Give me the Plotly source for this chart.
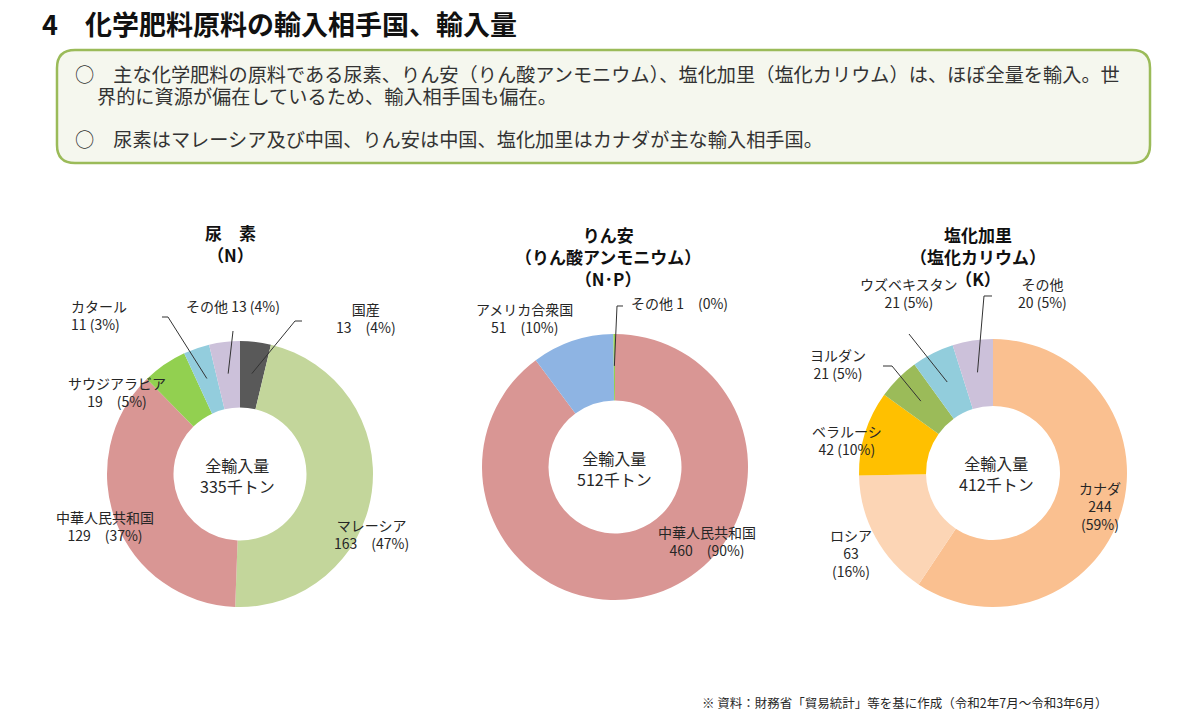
import math
import plotly.graph_objects as go

W, H = 1200, 723
OFF = 8  # page body margin in the browser
FONT = "Noto Sans CJK JP, Noto Sans, sans-serif"

# ---------------- data ----------------
urea_labels = ["国産", "マレーシア", "中華人民共和国", "サウジアラビア", "カタール", "その他"]
urea_values = [13, 163, 129, 19, 11, 13]
urea_texts = ["国産<br>13　(4%)", "マレーシア<br>163　(47%)", "中華人民共和国<br>129　(37%)",
              "サウジアラビア<br>19　(5%)", "カタール<br>11 (3%)", "その他 13 (4%)"]
urea_colors = ["#595959", "#c3d69b", "#d99694", "#92d050", "#93cddd", "#ccc1da"]
urea_total = "335千トン"

phos_labels = ["中華人民共和国", "アメリカ合衆国", "その他"]
phos_values = [460, 51, 1]
phos_texts = ["中華人民共和国<br>460　(90%)", "アメリカ合衆国<br>51　(10%)", "その他 1　(0%)"]
phos_colors = ["#d99694", "#8eb4e3", "#92d050"]
phos_total = "512千トン"

pot_labels = ["カナダ", "ロシア", "ベラルーシ", "ヨルダン", "ウズベキスタン", "その他"]
pot_values = [244, 63, 42, 21, 21, 20]
pot_texts = ["カナダ<br>244<br>(59%)", "ロシア<br>63<br>(16%)", "ベラルーシ<br>42 (10%)",
             "ヨルダン<br>21 (5%)", "ウズベキスタン<br>21 (5%)", "その他<br>20 (5%)"]
pot_colors = ["#fac090", "#fcd5b5", "#ffc000", "#9bbb59", "#92cddc", "#ccc1da"]
pot_total = "412千トン"

page_title = "4　化学肥料原料の輸入相手国、輸入量"
bullet_1a = "○　主な化学肥料の原料である尿素、りん安（りん酸アンモニウム）、塩化加里（塩化カリウム）は、ほぼ全量を輸入。世"
bullet_1b = "界的に資源が偏在しているため、輸入相手国も偏在。"
bullet_2 = "○　尿素はマレーシア及び中国、りん安は中国、塩化加里はカナダが主な輸入相手国。"
source_note = "※ 資料：財務省「貿易統計」等を基に作成（令和2年7月～令和3年6月）"

# ---------------- helpers ----------------
def X(px):
    return (px - OFF) / W


def Y(py):
    return 1 - (py - OFF) / H


fig = go.Figure()

pies = [
    dict(labels=urea_labels, values=urea_values, colors=urea_colors, cx=240, cy=474, r=133,
         title="尿　素<br>（N）", tx=230, ty=244, total=urea_total, ctx=237, cty=475),
    dict(labels=phos_labels, values=phos_values, colors=phos_colors, cx=615, cy=467, r=133,
         title="りん安<br>（りん酸アンモニウム）<br>（N･P）", tx=608, ty=256, total=phos_total, ctx=614, cty=469),
    dict(labels=pot_labels, values=pot_values, colors=pot_colors, cx=993, cy=473, r=134,
         title="塩化加里<br>（塩化カリウム）<br>（K）", tx=978, ty=256, total=pot_total, ctx=996, cty=473),
]

annotations = []
shapes = []

for p in pies:
    cx, cy, r = p["cx"], p["cy"], p["r"]
    fig.add_trace(go.Pie(
        labels=p["labels"], values=p["values"],
        marker=dict(colors=p["colors"], line=dict(width=0)),
        hole=0.5, sort=False, direction="clockwise", rotation=0,
        textinfo="none", hoverinfo="label+value", showlegend=False,
        domain=dict(x=[X(cx - r), X(cx + r)], y=[Y(cy + r), Y(cy - r)]),
    ))
    annotations.append(dict(x=X(p["tx"]), y=Y(p["ty"]), xref="paper", yref="paper",
                            text="<b>" + p["title"] + "</b>", showarrow=False,
                            font=dict(family=FONT, size=17, color="#111111"),
                            xanchor="center", yanchor="middle", align="center"))
    annotations.append(dict(x=X(p["ctx"]), y=Y(p["cty"]), xref="paper", yref="paper",
                            text="全輸入量<br>" + p["total"], showarrow=False,
                            font=dict(family=FONT, size=16, color="#262626"),
                            xanchor="center", yanchor="middle", align="center"))


def slice_point(p, idx, frac=0.76):
    vals = p["values"]
    tot = sum(vals)
    start = sum(vals[:idx])
    mid = (start + vals[idx] / 2) / tot * 2 * math.pi
    rr = p["r"] * frac
    return p["cx"] + rr * math.sin(mid), p["cy"] - rr * math.cos(mid)


def label(text, x, y, anchor="center", align="center"):
    annotations.append(dict(x=X(x), y=Y(y), xref="paper", yref="paper", text=text,
                            showarrow=False, font=dict(family=FONT, size=14, color="#262626"),
                            xanchor=anchor, yanchor="middle", align=align))


def leader(p, idx, pts):
    sx, sy = slice_point(p, idx)
    path = "M {:.5f},{:.5f}".format(X(sx), Y(sy))
    for (px, py) in pts:
        path += " L {:.5f},{:.5f}".format(X(px), Y(py))
    shapes.append(dict(type="path", xref="paper", yref="paper", path=path,
                       line=dict(color="#333333", width=1)))


u, ph, po = pies

# urea labels
label(urea_texts[0], 366, 318)
label(urea_texts[1], 371, 534)
label(urea_texts[2], 105, 526)
label(urea_texts[3], 117, 392)
label(urea_texts[4], 69, 315, anchor="left", align="left")
label(urea_texts[5], 233, 306)
leader(u, 0, [(295, 321), (302, 321)])
leader(u, 5, [(233, 331)])
leader(u, 4, [(168, 317), (162, 317)])

# phosphate labels
label(phos_texts[0], 707, 541)
label(phos_texts[1], 524, 318)
label(phos_texts[2], 629, 303, anchor="left", align="left")
leader(ph, 2, [(617, 306), (623, 306)])

# potash labels
label(pot_texts[0], 1100, 506)
label(pot_texts[1], 851, 553)
label(pot_texts[2], 847, 440)
label(pot_texts[3], 838, 364)
label(pot_texts[4], 909, 293)
label(pot_texts[5], 1042, 293)
leader(po, 5, [(984, 296), (992, 296)])
leader(po, 4, [(909, 334)])
leader(po, 3, [(892, 366), (883, 366)])

# page title
annotations.append(dict(x=X(41), y=Y(23), xref="paper", yref="paper", text="<b>" + page_title + "</b>",
                        showarrow=False, font=dict(family=FONT, size=27, color="#111111"),
                        xanchor="left", yanchor="middle", align="left", borderpad=0))

# rounded box
x0, y0, x1, y1, rad = 57, 50, 1150, 163, 18
pts = [("M", x0 + rad, y0), ("L", x1 - rad, y0), ("Q", x1, y0, x1, y0 + rad), ("L", x1, y1 - rad),
       ("Q", x1, y1, x1 - rad, y1), ("L", x0 + rad, y1), ("Q", x0, y1, x0, y1 - rad),
       ("L", x0, y0 + rad), ("Q", x0, y0, x0 + rad, y0)]
path = ""
for seg in pts:
    cmd = seg[0]
    coords = seg[1:]
    cs = []
    for i in range(0, len(coords), 2):
        cs.append("{:.5f},{:.5f}".format(X(coords[i]), Y(coords[i + 1])))
    path += cmd + " " + " ".join(cs) + " "
path += "Z"
shapes.insert(0, dict(type="path", xref="paper", yref="paper", path=path,
                      line=dict(color="#9bbb59", width=2.5), fillcolor="#f5f7ee", layer="below"))

for txt, tx, ty in [(bullet_1a, 73, 74), (bullet_1b, 95, 96), (bullet_2, 73, 139)]:
    annotations.append(dict(x=X(tx), y=Y(ty), xref="paper", yref="paper", text=txt,
                            showarrow=False, font=dict(family=FONT, size=19.2, color="#333333"),
                            xanchor="left", yanchor="middle", align="left"))

annotations.append(dict(x=X(700), y=Y(702), xref="paper", yref="paper", text=source_note,
                        showarrow=False, font=dict(family=FONT, size=12.5, color="#262626"),
                        xanchor="left", yanchor="middle", align="left"))

fig.update_layout(
    width=W, height=H, margin=dict(l=0, r=0, t=0, b=0),
    paper_bgcolor="white", plot_bgcolor="white",
    annotations=annotations, shapes=shapes,
    font=dict(family=FONT),
)

fig.write_html("out.html")
